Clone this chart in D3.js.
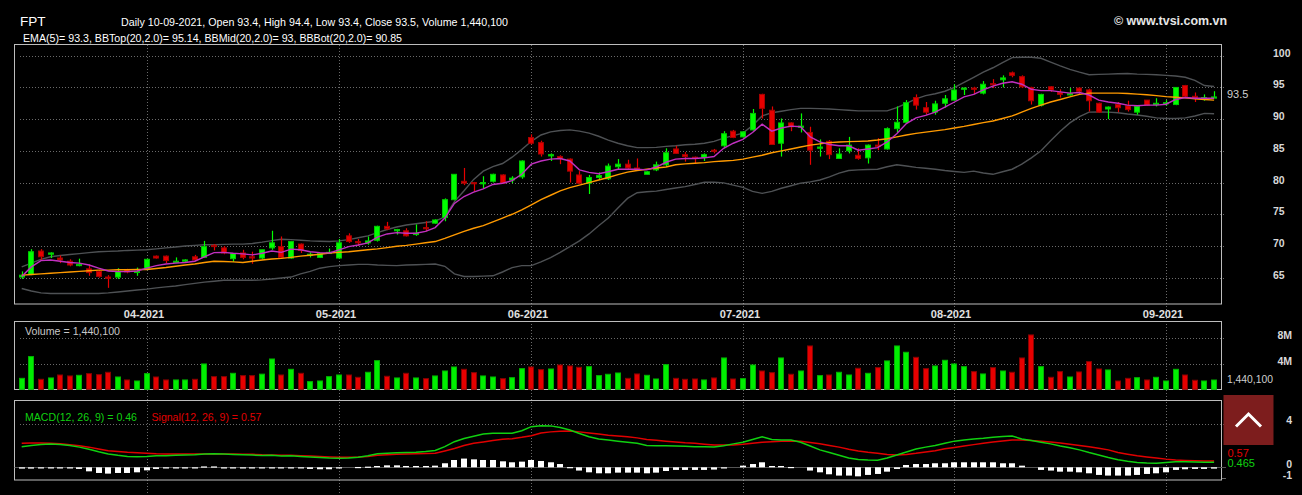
<!DOCTYPE html>
<html><head><meta charset="utf-8">
<script src="https://cdn.jsdelivr.net/npm/d3@7/dist/d3.min.js"></script>
<style>
html,body{margin:0;padding:0;background:#000;overflow:hidden;}
svg{display:block;}
text{font-family:"Liberation Sans",Arial,Helvetica,sans-serif;}
</style></head><body>
<svg id="c" width="1302" height="495"></svg>
<script>
// ---------------- DATA ----------------
const dates = [
"2021-03-15","2021-03-16","2021-03-17","2021-03-18","2021-03-19","2021-03-22","2021-03-23","2021-03-24","2021-03-25","2021-03-26","2021-03-29","2021-03-30","2021-03-31",
"2021-04-01","2021-04-02","2021-04-05","2021-04-06","2021-04-07","2021-04-08","2021-04-09","2021-04-12","2021-04-13","2021-04-14","2021-04-15","2021-04-16","2021-04-19","2021-04-20","2021-04-22","2021-04-23","2021-04-26","2021-04-27","2021-04-28","2021-04-29",
"2021-05-04","2021-05-05","2021-05-06","2021-05-07","2021-05-10","2021-05-11","2021-05-12","2021-05-13","2021-05-14","2021-05-17","2021-05-18","2021-05-19","2021-05-20","2021-05-21","2021-05-24","2021-05-25","2021-05-26","2021-05-27","2021-05-28","2021-05-31",
"2021-06-01","2021-06-02","2021-06-03","2021-06-04","2021-06-07","2021-06-08","2021-06-09","2021-06-10","2021-06-11","2021-06-14","2021-06-15","2021-06-16","2021-06-17","2021-06-18","2021-06-21","2021-06-22","2021-06-23","2021-06-24","2021-06-25","2021-06-28","2021-06-29","2021-06-30",
"2021-07-01","2021-07-02","2021-07-05","2021-07-06","2021-07-07","2021-07-08","2021-07-09","2021-07-12","2021-07-13","2021-07-14","2021-07-15","2021-07-16","2021-07-19","2021-07-20","2021-07-21","2021-07-22","2021-07-23","2021-07-26","2021-07-27","2021-07-28","2021-07-29","2021-07-30",
"2021-08-02","2021-08-03","2021-08-04","2021-08-05","2021-08-06","2021-08-09","2021-08-10","2021-08-11","2021-08-12","2021-08-13","2021-08-16","2021-08-17","2021-08-18","2021-08-19","2021-08-20","2021-08-23","2021-08-24","2021-08-25","2021-08-26","2021-08-27","2021-08-30","2021-08-31",
"2021-09-01","2021-09-06","2021-09-07","2021-09-08","2021-09-09","2021-09-10"];

const open = [
65.1,65.5,69.2,68.7,68.1,67.6,66.9,66.4,66.0,65.1,65.1,66.3,65.9,
66.3,68.4,68.4,67.5,67.6,68.3,68.2,70.1,69.7,68.0,68.9,68.3,68.1,69.7,69.9,68.1,70.3,68.5,68.2,68.9,
68.1,71.6,70.7,70.5,70.9,73.1,72.4,72.4,71.8,72.9,73.6,74.5,77.3,80.2,80.0,79.8,80.2,81.2,80.4,80.9,
87.1,86.3,84.2,84.1,83.7,81.2,79.9,80.8,80.6,82.5,82.9,82.3,81.3,82.0,82.8,85.3,84.4,84.0,84.0,85.1,85.8,88.1,
87.2,88.3,93.9,91.4,86.2,89.4,88.7,87.9,85.4,86.5,83.8,85.0,84.3,83.9,85.9,85.3,88.5,89.5,93.4,91.8,91.1,92.5,
93.0,94.7,94.9,94.1,95.6,96.2,97.3,96.7,95.0,92.2,95.1,94.2,93.9,94.9,94.6,92.5,91.6,92.3,92.1,91.1,93.0,92.3,
92.5,92.3,95.3,93.6,93.2,93.4];
const high = [
66.0,69.5,69.5,69.0,68.5,67.9,68.0,67.1,66.2,65.4,66.5,66.4,66.6,
68.0,68.5,68.5,68.2,67.9,68.6,70.8,70.3,70.0,68.9,69.4,69.1,69.4,72.4,71.5,70.8,70.4,69.0,68.9,69.6,
71.1,72.0,71.1,71.5,73.2,73.8,72.7,72.8,73.4,73.9,74.2,77.5,81.3,82.3,80.1,81.0,81.4,81.3,81.0,83.5,
87.6,86.6,84.6,84.3,83.8,81.8,81.2,81.6,83.0,83.7,83.6,83.8,81.8,83.3,85.4,85.8,84.8,84.1,84.6,85.3,88.1,88.3,
88.1,91.6,94.0,92.0,90.1,89.5,90.9,88.8,86.8,86.7,85.4,87.2,85.4,86.0,87.0,88.7,92.0,93.0,93.9,92.7,92.9,93.8,
95.5,95.0,95.1,96.0,96.3,96.9,97.5,96.9,95.1,94.0,95.2,94.7,94.9,95.0,94.8,92.6,92.0,92.7,92.9,92.0,93.0,93.3,
93.0,95.0,95.4,94.2,93.9,94.4];
const low = [
64.8,65.4,67.8,68.1,67.3,66.8,66.8,65.3,65.0,63.4,64.8,65.7,65.3,
66.2,68.0,67.3,67.4,67.5,67.6,68.1,69.3,68.7,67.5,67.9,67.2,67.9,69.4,68.1,68.0,68.9,68.2,68.1,68.8,
68.0,70.5,70.0,70.2,70.7,72.5,71.8,71.5,71.6,72.3,73.5,73.9,77.2,79.6,78.6,79.1,80.0,79.8,79.9,80.6,
86.0,84.1,83.4,82.9,80.0,79.8,78.2,80.4,80.4,82.1,82.1,82.0,81.3,81.8,82.6,84.5,83.3,83.0,83.4,84.6,85.5,87.0,
87.1,88.2,90.1,86.0,84.1,88.1,87.9,82.8,84.1,83.7,83.8,84.6,83.6,83.0,85.1,85.2,87.9,89.3,91.5,90.7,90.7,91.8,
92.9,93.8,93.9,93.9,94.9,95.0,96.6,94.9,92.3,92.0,94.3,93.4,93.7,93.9,91.2,91.0,90.0,91.1,91.2,90.7,92.1,92.0,
92.1,92.2,93.5,92.7,92.9,93.4];
const close = [
65.4,69.1,68.3,68.9,67.8,67.0,67.1,65.8,65.2,64.9,66.0,65.9,66.0,
67.9,68.1,67.7,67.6,67.8,67.8,69.9,69.9,68.9,68.8,68.2,68.1,69.4,70.5,68.2,70.7,69.3,68.7,68.8,69.0,
70.5,70.7,70.5,70.8,73.1,72.7,72.6,71.6,72.0,72.8,74.1,77.3,81.3,79.9,79.8,80.0,81.3,79.9,80.7,83.4,
86.2,84.5,84.4,83.8,81.8,79.9,80.8,81.1,82.6,82.9,82.3,82.1,81.7,82.8,84.7,84.6,84.1,83.8,84.4,84.9,87.7,87.1,
88.0,90.9,91.7,86.0,89.4,88.8,88.9,85.1,85.6,84.4,84.5,85.9,83.8,85.9,85.7,88.5,89.5,92.6,92.2,91.1,92.4,93.2,
94.6,94.9,94.7,95.5,95.4,96.5,96.9,95.1,92.9,93.9,94.6,93.9,94.0,94.4,92.9,91.1,91.9,91.8,91.5,92.0,92.2,92.5,
92.6,95.0,93.6,93.3,93.4,93.5];
// volume in millions of shares
const volumeM = [
1.70,5.07,1.55,1.76,2.22,2.07,2.17,2.43,2.27,2.64,1.91,1.45,1.29,
2.43,1.91,1.45,1.45,1.45,1.55,3.93,1.96,1.96,2.48,2.12,2.12,2.35,4.70,2.22,3.10,2.48,1.19,1.29,1.96,
2.22,2.22,1.86,2.64,4.44,2.02,1.76,2.48,1.76,1.65,2.07,2.84,3.46,3.10,2.58,2.07,1.91,1.65,1.80,3.20,
3.46,3.05,3.15,3.77,3.62,3.41,3.51,2.12,2.33,2.53,1.70,2.38,2.17,1.60,3.82,1.70,1.55,1.60,1.45,1.76,4.86,1.60,
1.65,3.77,2.84,2.58,4.86,2.33,2.84,6.72,2.12,2.22,2.64,2.22,3.26,2.48,3.36,4.40,6.72,5.74,4.96,3.20,3.62,4.50,
3.93,3.51,2.74,2.38,3.36,2.84,2.64,4.86,8.43,3.51,1.86,2.74,1.91,2.69,4.29,3.15,3.00,1.29,1.70,1.80,1.45,1.86,
1.29,3.10,2.22,1.40,1.29,1.4401];
const ema5 = [
65.2,66.7,67.7,67.8,67.6,67.4,67.3,67.0,66.5,66.05,65.95,65.95,66.05,
66.5,66.9,67.15,67.3,67.4,67.6,68.3,68.95,69.0,68.85,68.75,68.6,68.85,69.2,69.0,69.5,69.4,69.1,68.95,68.9,
69.4,69.9,70.15,70.5,71.4,71.9,72.1,72.0,72.0,72.3,72.9,74.4,76.7,77.8,78.5,79.0,79.7,79.9,80.3,81.3,
82.9,83.4,83.7,83.8,83.4,82.0,81.6,81.4,81.7,82.1,82.1,82.1,82.0,82.45,83.2,83.7,83.8,83.8,83.9,84.1,85.4,86.2,
86.8,87.9,89.2,88.1,88.6,88.9,88.8,87.2,86.4,86.0,85.8,85.8,85.1,85.3,85.5,86.4,87.7,89.3,90.2,90.6,91.1,91.9,
92.7,93.5,93.9,94.6,95.2,95.65,95.9,95.5,94.7,94.5,94.5,94.3,94.1,94.2,93.8,93.0,92.7,92.5,92.2,92.1,92.2,92.2,
92.35,93.1,93.4,93.3,93.3,93.3];
const bbTop = [
66.7,67.3,67.9,68.3,68.5,68.65,68.8,68.95,69.1,69.15,69.2,69.3,69.35,
69.4,69.55,69.7,69.85,70.0,70.1,70.2,70.2,70.25,70.3,70.3,70.4,70.6,70.85,71.05,71.0,70.9,70.8,70.75,70.7,
70.8,71.0,71.3,71.6,72.1,72.6,73.0,73.3,73.5,73.7,73.9,74.6,77.0,78.7,80.5,81.8,82.5,83.0,84.0,85.2,
86.5,87.5,88.0,88.2,88.3,88.1,87.8,87.3,86.7,86.2,85.8,85.5,85.5,85.55,85.7,85.8,85.95,86.05,86.2,86.5,87.0,87.4,
87.8,89.0,90.5,91.0,91.25,91.5,91.7,91.7,91.65,91.6,91.5,91.4,91.3,91.3,91.3,91.3,91.8,92.5,93.2,93.7,94.0,94.4,
95.0,95.8,96.6,97.4,98.1,98.9,99.7,99.75,99.75,99.6,99.0,98.4,97.85,97.4,97.0,97.05,97.1,97.15,97.2,97.1,97.05,97.0,
96.9,96.8,96.6,96.1,95.3,95.14];
const bbMid = [
65.4,65.5,65.6,65.7,65.8,65.9,66.0,66.1,66.2,66.2,66.25,66.25,66.3,
66.3,66.45,66.6,66.8,67.0,67.15,67.4,67.6,67.55,67.5,67.4,67.6,67.8,67.95,68.05,68.2,68.4,68.55,68.7,68.9,
69.0,69.1,69.25,69.4,69.55,69.75,69.95,70.1,70.3,70.5,70.7,71.2,71.75,72.3,72.8,73.2,73.8,74.4,75.0,75.7,
76.5,77.3,78.0,78.7,79.2,79.6,80.0,80.4,80.8,81.25,81.65,81.9,82.1,82.3,82.45,82.8,82.95,83.05,83.15,83.3,83.4,83.5,
83.7,84.0,84.3,84.7,85.0,85.3,85.6,85.9,86.1,86.3,86.4,86.45,86.5,86.55,86.7,86.9,87.2,87.5,87.75,87.95,88.15,88.35,
88.6,88.85,89.15,89.45,89.7,90.1,90.5,91.1,91.7,92.2,92.7,93.1,93.5,93.9,94.1,94.1,94.1,94.1,94.05,93.95,93.85,93.7,
93.55,93.45,93.35,93.2,93.1,93.0];
const bbBot = [
63.3,62.9,62.6,62.5,62.5,62.5,62.5,62.5,62.5,62.6,62.75,62.9,63.05,
63.2,63.4,63.55,63.7,63.9,64.1,64.3,64.45,64.6,64.6,64.6,64.6,64.65,64.8,64.95,65.1,65.6,66.0,66.5,66.75,
66.9,67.0,67.1,67.1,67.0,66.95,66.9,67.0,67.05,67.1,67.15,66.8,65.6,65.2,65.2,65.25,65.3,65.9,66.6,66.9,
66.9,67.5,68.15,69.0,69.9,70.8,71.9,73.2,74.4,76.0,77.5,78.4,78.55,78.65,78.9,79.15,79.35,79.7,80.05,80.05,79.95,79.6,
79.25,78.6,78.3,78.6,79.1,79.5,79.9,80.1,80.4,80.9,81.5,81.9,82.0,82.05,82.1,82.5,82.8,82.6,82.4,82.25,82.1,81.9,
81.75,81.6,81.8,81.5,81.3,81.7,82.1,82.9,83.9,85.0,86.6,88.1,89.4,90.4,91.1,91.15,91.1,91.0,90.8,90.65,90.45,90.2,
90.1,90.1,90.2,90.5,90.9,90.85];
const macd = [
1.89,2.0,2.1,2.14,2.1,2.0,1.85,1.65,1.42,1.22,1.1,1.0,0.97,
1.0,1.05,1.07,1.1,1.12,1.15,1.22,1.25,1.22,1.18,1.15,1.12,1.08,1.1,1.04,1.05,1.0,0.95,0.9,0.85,
0.83,0.85,0.92,1.05,1.25,1.3,1.33,1.35,1.38,1.45,1.55,1.9,2.35,2.65,2.85,3.05,3.12,3.12,3.12,3.35,
3.73,3.82,3.8,3.65,3.42,3.1,2.8,2.6,2.5,2.4,2.3,2.2,2.0,1.98,1.97,1.95,1.92,1.89,1.88,1.86,1.98,2.15,
2.29,2.55,2.81,2.55,2.5,2.5,2.3,1.95,1.6,1.35,1.1,0.85,0.72,0.66,0.64,0.85,1.13,1.4,1.68,1.85,2.0,2.2,
2.4,2.5,2.6,2.66,2.75,2.82,2.87,2.6,2.45,2.3,2.15,1.95,1.8,1.6,1.35,1.13,0.9,0.7,0.55,0.45,0.4,0.37,
0.45,0.52,0.5,0.48,0.47,0.465];
const signal = [
2.2,2.22,2.22,2.2,2.15,2.08,1.98,1.85,1.68,1.52,1.45,1.38,1.34,
1.3,1.25,1.22,1.21,1.21,1.21,1.22,1.22,1.22,1.21,1.2,1.19,1.15,1.13,1.11,1.1,1.07,1.03,0.99,0.95,
0.92,0.92,0.94,1.0,1.1,1.15,1.2,1.23,1.25,1.27,1.3,1.5,1.72,2.0,2.2,2.33,2.45,2.57,2.62,2.75,
2.9,3.15,3.25,3.3,3.33,3.25,3.15,3.05,2.95,2.88,2.8,2.7,2.55,2.48,2.4,2.33,2.25,2.2,2.12,2.05,2.05,2.05,
2.11,2.2,2.29,2.35,2.38,2.41,2.38,2.28,2.15,2.0,1.85,1.65,1.5,1.38,1.28,1.18,1.13,1.18,1.28,1.4,1.52,1.7,
1.82,1.95,2.08,2.2,2.32,2.42,2.5,2.5,2.45,2.4,2.33,2.22,2.12,2.0,1.88,1.74,1.6,1.35,1.2,1.05,0.95,0.85,
0.75,0.67,0.63,0.6,0.58,0.57];
const hist = [
-0.12,-0.12,-0.03,-0.03,-0.05,-0.1,-0.15,-0.37,-0.52,-0.58,-0.52,-0.52,-0.46,
-0.28,-0.15,-0.1,-0.1,-0.1,-0.08,0.08,0.08,-0.06,-0.06,-0.06,-0.06,-0.08,-0.08,-0.08,-0.05,-0.08,-0.15,-0.18,-0.18,
-0.1,0.0,0.03,0.06,0.12,0.18,0.18,0.12,0.12,0.12,0.15,0.37,0.67,0.8,0.73,0.67,0.67,0.55,0.46,0.52,
0.67,0.58,0.46,0.3,0.02,-0.3,-0.46,-0.55,-0.55,-0.49,-0.49,-0.49,-0.55,-0.49,-0.34,-0.24,-0.24,-0.24,-0.24,-0.21,-0.03,0.0,
0.15,0.3,0.46,0.12,0.12,0.03,0.0,-0.3,-0.46,-0.64,-0.76,-0.76,-0.83,-0.7,-0.61,-0.4,-0.15,0.21,0.3,0.3,0.37,0.37,
0.46,0.46,0.46,0.46,0.46,0.37,0.37,0.15,0.0,-0.24,-0.3,-0.4,-0.4,-0.46,-0.55,-0.7,-0.76,-0.76,-0.76,-0.7,-0.61,-0.55,
-0.46,-0.24,-0.18,-0.15,-0.15,-0.12];

const priceTicks = [65,70,75,80,85,90,95,100];
const volTicks = [4,8];
const volTickLabels = ["4M","8M"];
const macdTicks = [4,0,-1];
const headerTitle = "FPT";
const headerLine1 = "Daily 10-09-2021, Open 93.4, High 94.4, Low 93.4, Close 93.5, Volume 1,440,100";
const headerLine2 = "EMA(5)= 93.3, BBTop(20,2.0)= 95.14, BBMid(20,2.0)= 93, BBBot(20,2.0)= 90.85";
const volumeLabel = "Volume = 1,440,100";
const lastVolumeLabel = "1,440,100";
const macdLabel = "MACD(12, 26, 9) = 0.46";
const signalLabel = "Signal(12, 26, 9) = 0.57";
const lastMacd = 0.465, lastSignal = 0.57;
const copyright = "\u00A9 www.tvsi.com.vn";

// ---------------- DRAW ----------------
const svg = d3.select("#c");
svg.append("rect").attr("width",1302).attr("height",495).attr("fill","#000");

const n = dates.length;
const idx = d3.range(n);
const x = d3.scalePoint().domain(dates).range([21.7, 1214.1]);
const y = d3.scaleLinear().domain([65,100]).range([277.7,55.7]);
const yv = d3.scaleLinear().domain([0,8]).range([389.3,337.7]);
const ym = d3.scaleLinear().domain([0,4]).range([467.3,423.7]);
const cx = i => Math.round(x(dates[i]));
const BW = 6;

const UP="#00ff00", DOWN="#e60000";
const GRID="#6a6a6a";
const BORDER="#bdbdbd";
const LEFT=14.5, RIGHT=1221.5;

// month grid
const monthIdx = idx.filter(i => i>0 && dates[i].slice(5,7)!==dates[i-1].slice(5,7));
svg.append("g").selectAll("line").data(monthIdx).join("line")
  .attr("x1",i=>cx(i)+0.5).attr("x2",i=>cx(i)+0.5)
  .attr("y1",45).attr("y2",495)
  .attr("stroke",GRID).attr("stroke-width",1).attr("stroke-dasharray","1,2");

// price grid
svg.append("g").selectAll("line").data(priceTicks).join("line")
  .attr("x1",20).attr("x2",1226)
  .attr("y1",d=>Math.round(y(d))+0.5).attr("y2",d=>Math.round(y(d))+0.5)
  .attr("stroke",GRID).attr("stroke-dasharray","1,2");
// volume grid
svg.append("g").selectAll("line").data(volTicks).join("line")
  .attr("x1",20).attr("x2",1226)
  .attr("y1",d=>Math.round(yv(d))+0.5).attr("y2",d=>Math.round(yv(d))+0.5)
  .attr("stroke",GRID).attr("stroke-dasharray","1,2");
// macd grid
svg.append("line").attr("x1",20).attr("x2",1226)
  .attr("y1",Math.round(ym(4))+0.5).attr("y2",Math.round(ym(4))+0.5)
  .attr("stroke",GRID).attr("stroke-dasharray","1,2");
svg.append("line").attr("x1",1221).attr("x2",1226)
  .attr("y1",Math.round(ym(-1))+0.5).attr("y2",Math.round(ym(-1))+0.5)
  .attr("stroke",GRID);

// panel borders
function panel(t,b){
  svg.append("rect").attr("x",LEFT).attr("y",t).attr("width",RIGHT-LEFT).attr("height",b-t)
    .attr("fill","none").attr("stroke",BORDER).attr("stroke-width",1);
}
panel(44.5,304);
panel(321.5,389.5);
panel(400.5,480);

// bollinger bands
const pl = arr => d3.line().x((d,i)=>x(dates[i])).y(d=>y(d))(arr);
svg.append("path").attr("d",pl(bbTop)).attr("fill","none").attr("stroke","#4e5154").attr("stroke-width",1.4);
svg.append("path").attr("d",pl(bbBot)).attr("fill","none").attr("stroke","#4e5154").attr("stroke-width",1.4);

// candles
const cg = svg.append("g");
const isUp = i => close[i] >= open[i];
cg.selectAll("line").data(idx).join("line")
  .attr("x1",i=>cx(i)+0.5).attr("x2",i=>cx(i)+0.5)
  .attr("y1",i=>y(high[i])).attr("y2",i=>y(low[i]))
  .attr("stroke",i=>isUp(i)?UP:DOWN).attr("stroke-width",1.2);
cg.selectAll("rect").data(idx).join("rect")
  .attr("x",i=>cx(i)-BW/2+0.5).attr("width",BW-1)
  .attr("y",i=>y(Math.max(open[i],close[i])))
  .attr("height",i=>Math.max(1.2,Math.abs(y(open[i])-y(close[i]))))
  .attr("fill",i=>isUp(i)?UP:DOWN)
  .attr("stroke",i=>isUp(i)?"#00c800":"#a80000").attr("stroke-width",1);

// mid band and ema
svg.append("path").attr("d",pl(bbMid)).attr("fill","none").attr("stroke","#ff9a00").attr("stroke-width",1.4);
svg.append("path").attr("d",pl(ema5)).attr("fill","none").attr("stroke","#c030c0").attr("stroke-width",1.4);

// volume
svg.append("g").selectAll("rect").data(idx).join("rect")
  .attr("x",i=>cx(i)-BW/2+0.5).attr("width",BW-1)
  .attr("y",i=>yv(volumeM[i])).attr("height",i=>yv(0)-yv(volumeM[i]))
  .attr("fill",i=>isUp(i)?"#00ee00":"#e60000")
  .attr("stroke",i=>isUp(i)?"#00b400":"#8a0000").attr("stroke-width",1);

// macd
svg.append("line").attr("x1",LEFT).attr("x2",1226)
  .attr("y1",Math.round(ym(0))+0.5).attr("y2",Math.round(ym(0))+0.5)
  .attr("stroke","#555").attr("stroke-width",1);
svg.append("g").selectAll("rect").data(idx).join("rect")
  .attr("x",i=>cx(i)-BW/2).attr("width",BW)
  .attr("y",i=>Math.min(ym(0),ym(hist[i])))
  .attr("height",i=>Math.max(hist[i]===0?0:1.2,Math.abs(ym(hist[i])-ym(0))))
  .attr("fill","#ffffff");
const ml = arr => d3.line().x((d,i)=>x(dates[i])).y(d=>ym(d))(arr);
svg.append("path").attr("d",ml(signal)).attr("fill","none").attr("stroke","#e00000").attr("stroke-width",1.5);
svg.append("path").attr("d",ml(macd)).attr("fill","none").attr("stroke","#10d010").attr("stroke-width",1.5);

// ---------------- TEXT ----------------
const T = (x0,y0,s,opt={}) => {
  const t = svg.append("text").attr("x",x0).attr("y",y0).text(s)
    .attr("fill",opt.fill||"#ddd").attr("font-size",opt.size||11)
    .attr("font-weight",opt.weight||"normal");
  if(opt.anchor) t.attr("text-anchor",opt.anchor);
  if(opt.len){ t.attr("textLength",opt.len).attr("lengthAdjust","spacingAndGlyphs"); }
  return t;
};
T(20,26,headerTitle,{fill:"#fff",size:13.5});
T(121,25.5,headerLine1,{fill:"#fff",size:10.8,len:387});
T(23,42.3,headerLine2,{fill:"#fff",size:10.8,len:379});
T(1114,25,copyright,{fill:"#e6e6e6",size:12.5,weight:"bold",len:113});

// price axis labels
priceTicks.forEach(v=>T(1273,Math.round(y(v))+0.5,String(v),{fill:"#d8d8d8",size:10.5,weight:"bold"}));
T(1227,y(close[n-1])+0.6,String(close[n-1]),{fill:"#cfcfcf",size:11});

// month labels
monthIdx.forEach(i=>{
  const d = dates[i];
  T(cx(i)-3,318,d.slice(5,7)+"-"+d.slice(0,4),{fill:"#e0e0e0",size:11,weight:"bold",anchor:"middle"});
});

// volume labels
T(25,334.7,volumeLabel,{fill:"#c8c8c8",size:11,len:95});
volTicks.forEach((v,k)=>T(1292,Math.round(yv(v))+0.8,volTickLabels[k],{fill:"#d8d8d8",size:10.5,weight:"bold",anchor:"end"}));
T(1227,yv(volumeM[n-1])+2.5,lastVolumeLabel,{fill:"#cfcfcf",size:10.5,len:46});

// macd labels
T(25,421.3,macdLabel,{fill:"#10d010",size:11,len:112});
T(151.5,421.3,signalLabel,{fill:"#e00000",size:11,len:110});
macdTicks.forEach(v=>T(1292,ym(v)+(v<0?1:0.5),String(v),{fill:"#d8d8d8",size:10.5,weight:"bold",anchor:"end"}));
T(1227.4,ym(lastSignal)-4,String(lastSignal),{fill:"#e00000",size:11});
T(1227.4,ym(lastMacd)+5,String(lastMacd),{fill:"#10d010",size:11});

// scroll-to-top button
svg.append("rect").attr("x",1223.5).attr("y",395).attr("width",50).attr("height",50).attr("fill","#7d1d1d");
svg.append("path").attr("d","M1236,426.5 L1248.5,414 L1261,426.5").attr("fill","none")
  .attr("stroke","#fff").attr("stroke-width",3);
</script>
</body></html>
